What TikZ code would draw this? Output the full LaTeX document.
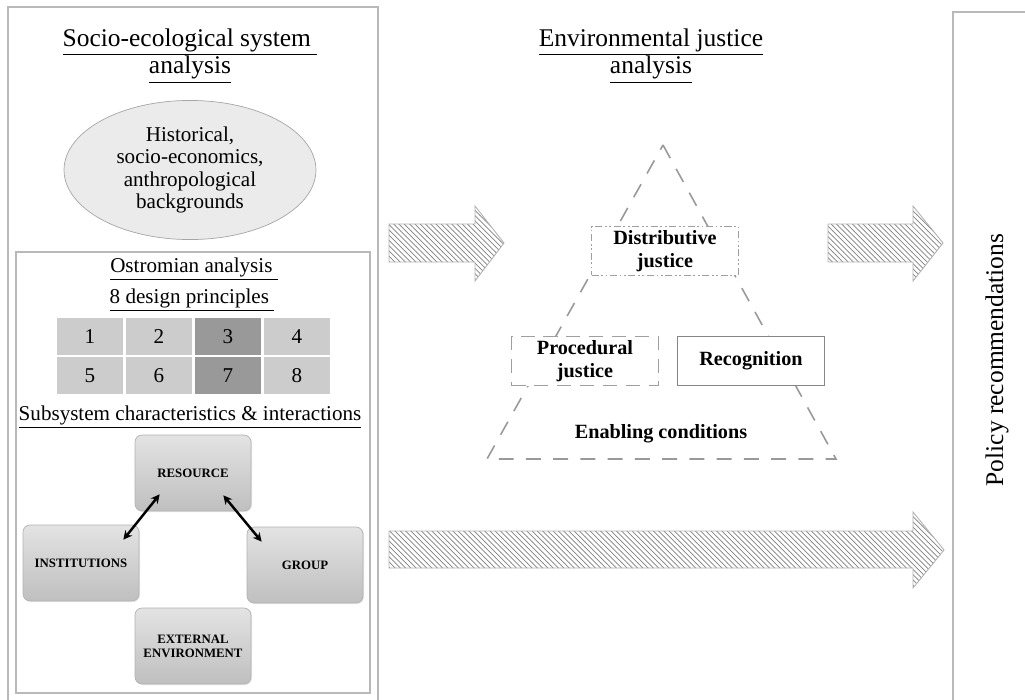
\documentclass[tikz,border=0pt]{standalone}
\usepackage{fontspec}
\setmainfont{Liberation Serif}
\usetikzlibrary{patterns,shadows,calc,shapes.geometric,arrows.meta}

\begin{document}
\begin{tikzpicture}[x=0.02cm,y=-0.02cm,
    frame/.style={draw=gray!55,line width=0.8pt},
    heading/.style={align=center,font=\fontsize{14.5}{15.5}\selectfont},
    subhead/.style={font=\fontsize{12}{13}\selectfont},
    cell/.style={fill=#1,draw=white,line width=1.2pt,minimum width=1.38cm,minimum height=0.78cm,inner sep=0pt,font=\fontsize{12}{13}\selectfont},
    part/.style={draw=gray!60,rounded corners=4pt,top color=gray!22,bottom color=gray!50,
        drop shadow={opacity=0.2,shadow xshift=0.6pt,shadow yshift=-0.6pt},
        minimum width=2.32cm,minimum height=1.52cm,align=center,inner sep=0pt,font=\bfseries\fontsize{7.3}{8}\selectfont},
    jbox/.style={fill=white,minimum width=2.94cm,minimum height=0.98cm,align=center,inner sep=0pt,font=\bfseries\fontsize{11.5}{13}\selectfont},
    hatch/.style={draw=gray!60,line width=0.5pt,pattern=north west lines,pattern color=gray},
    link/.style={{Stealth[length=5pt,width=5pt]}-{Stealth[length=5pt,width=5pt]},line width=1.4pt}]
    \useasboundingbox (0,0) rectangle (1025,700);

    % socio-ecological column
    \draw[frame] (8,7) rectangle (378,712);
    \node[heading] (sestitle) at (190,56) {\underline{Socio-ecological system\ }\\\underline{analysis}};
    \node[ellipse,draw=gray!70,fill=gray!16,minimum width=5.04cm,minimum height=2.6cm,align=center,
          font=\fontsize{12}{12.8}\selectfont] (backgr) at (190,170)
          {Historical,\\socio-economics,\\anthropological\\backgrounds};

    \draw[frame] (16,252) rectangle (370,693);
    \node[subhead] (ostrom) at (194,269) {\underline{Ostromian analysis\ }};
    \node[subhead] (design) at (192,300) {\underline{8 design principles\ }};
    \foreach \n in {1,...,8}{
        \pgfmathtruncatemacro\pcol{mod(\n-1,4)}
        \pgfmathtruncatemacro\prow{(\n-1)/4}
        \ifnum\pcol=2 \def\cellcol{gray!80}\else\def\cellcol{gray!40}\fi
        \node[cell=\cellcol] (p\n) at (90+69*\pcol,336.5+39*\prow) {\n};
    }
    \node[subhead] (subsys) at (190,417) {\underline{Subsystem characteristics \& interactions}};

    \node[part] (res) at (193,473) {RESOURCE};
    \node[part] (inst) at (81,563) {INSTITUTIONS};
    \node[part] (grp) at (305,565) {GROUP};
    \node[part] (ext) at (193,646) {EXTERNAL\\ENVIRONMENT};
    \draw[link] ($(res.south west)+(25,-17)$) -- ($(inst.north east)+(-16,15)$);
    \draw[link] ($(res.south east)+(-28,-16)$) -- ($(grp.north west)+(15,15)$);

    % environmental justice column
    \node[heading] (ejtitle) at (651,56) {\underline{Environmental justice}\\\underline{analysis}};
    \coordinate (apex) at (663,145);
    \coordinate (bl) at (487,459);
    \coordinate (br) at (836,459);
    \draw[gray!80,line width=0.9pt,dash pattern=on 8.5pt off 7pt] (apex) -- (br) -- (bl) -- cycle;
    \node[jbox,draw=gray!75,line width=0.8pt,dash pattern=on 4pt off 1.5pt on 1pt off 1.5pt on 1pt off 1.5pt] (distr) at (665,251) {Distributive\\justice};
    \node[jbox,draw=gray!75,line width=0.8pt,dash pattern=on 8pt off 5pt] (proc) at (585,361) {Procedural\\justice};
    \node[jbox,draw=gray!95,line width=0.8pt] (recog) at (751,361) {Recognition};
    \node[font=\bfseries\fontsize{11.5}{13}\selectfont] (enabl) at (661,434) {Enabling conditions};

    % block arrows
    \draw[hatch] (389,224) -- (475,224) -- (475,206) -- (504,243) -- (475,281) -- (475,262) -- (389,262) -- cycle;
    \draw[hatch] (828,224) -- (913,224) -- (913,206) -- (943,243) -- (913,281) -- (913,262) -- (828,262) -- cycle;
    \draw[hatch] (389,531) -- (913,531) -- (913,512) -- (944,550) -- (913,588) -- (913,568) -- (389,568) -- cycle;

    % policy column
    \draw[frame] (953,12) rectangle (1040,712);
    \node[rotate=90,font=\fontsize{14.5}{15.5}\selectfont] (policy) at (997,360) {Policy recommendations};
\end{tikzpicture}
\end{document}
